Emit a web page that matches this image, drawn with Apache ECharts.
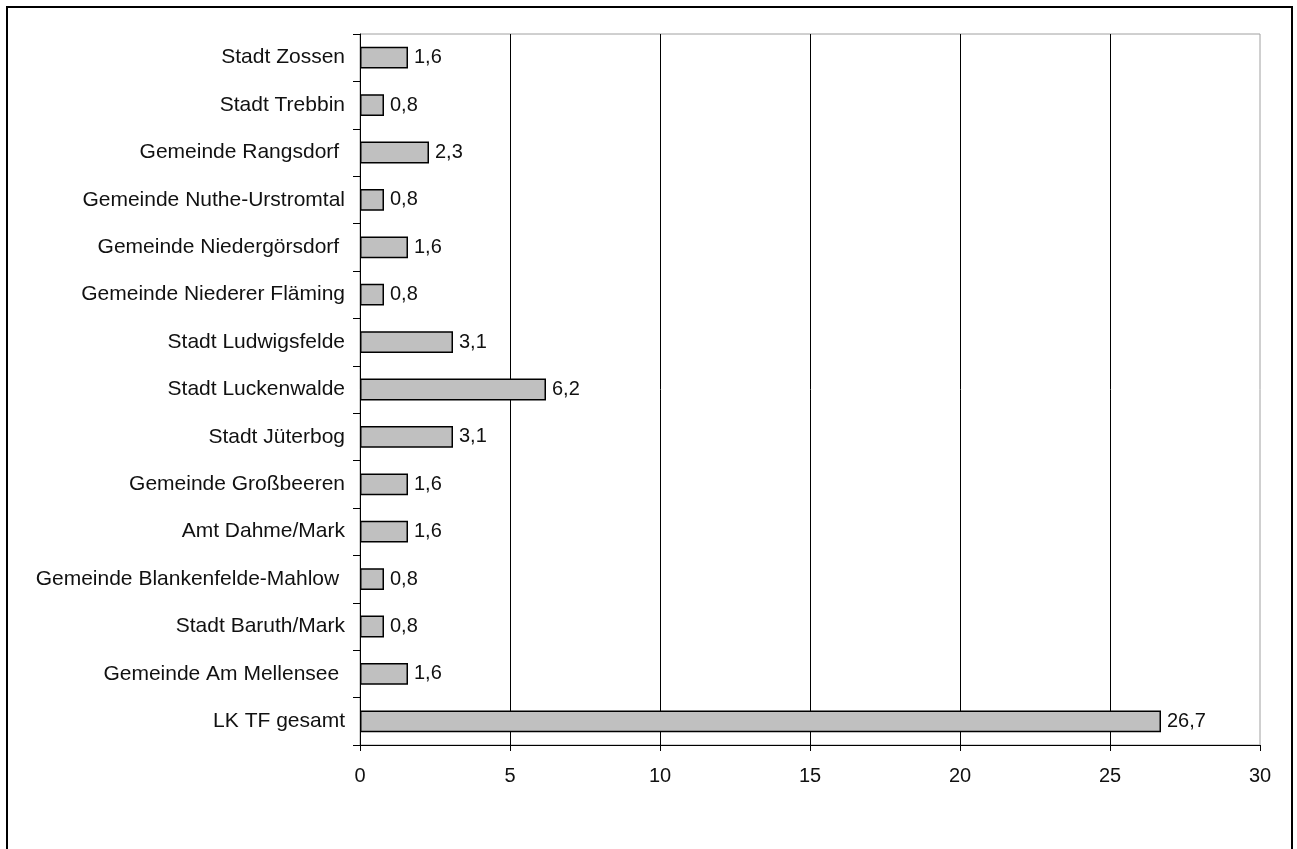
<!DOCTYPE html>
<html>
<head>
<meta charset="utf-8">
<script src="https://cdn.jsdelivr.net/npm/echarts@6/dist/echarts.min.js"></script>
<style>
  html, body { margin: 0; padding: 0; background: #fff; }
  #chart { width: 1297px; height: 849px; }
</style>
</head>
<body>
<div id="chart"></div>
<script>
// Kategorien von oben nach unten
const categories = [
  "Stadt Zossen",
  "Stadt Trebbin",
  "Gemeinde Rangsdorf ",
  "Gemeinde Nuthe-Urstromtal",
  "Gemeinde Niedergörsdorf ",
  "Gemeinde Niederer Fläming",
  "Stadt Ludwigsfelde",
  "Stadt Luckenwalde",
  "Stadt Jüterbog",
  "Gemeinde Großbeeren",
  "Amt Dahme/Mark",
  "Gemeinde Blankenfelde-Mahlow ",
  "Stadt Baruth/Mark",
  "Gemeinde Am Mellensee ",
  "LK TF gesamt"
];
const values = [1.6, 0.8, 2.3, 0.8, 1.6, 0.8, 3.1, 6.2, 3.1, 1.6, 1.6, 0.8, 0.8, 1.6, 26.7];
const xTicks = [0, 5, 10, 15, 20, 25, 30];

const font = "Arial, 'Liberation Sans', sans-serif";
const chart = echarts.init(document.getElementById("chart"));

chart.setOption({
  animation: false,
  graphic: [{
    type: "rect",
    shape: { x: 7, y: 7, width: 1285, height: 900 },
    style: { fill: "none", stroke: "#000", lineWidth: 2 },
    silent: true
  }],
  grid: {
    left: 360, top: 34, right: 37, bottom: 104,
    show: true, borderColor: "#a0a0a0", borderWidth: 1, backgroundColor: "transparent"
  },
  xAxis: {
    type: "value",
    min: xTicks[0], max: xTicks[xTicks.length - 1], interval: 5,
    axisLine: { show: true, lineStyle: { color: "#000", width: 1 } },
    axisTick: { show: true, length: 6, lineStyle: { color: "#000" } },
    axisLabel: { color: "#111", fontFamily: font, fontSize: 20, margin: 21 },
    splitLine: { show: true, showMinLine: false, showMaxLine: false, lineStyle: { color: "#000", width: 1 } }
  },
  yAxis: {
    type: "category",
    data: categories,
    inverse: true,
    axisLine: { show: true, lineStyle: { color: "#000", width: 1 } },
    axisTick: { show: true, length: 7, lineStyle: { color: "#000" } },
    axisLabel: { color: "#111", fontFamily: font, fontSize: 21, margin: 15 },
    splitLine: { show: false }
  },
  series: [{
    type: "bar",
    data: values,
    barWidth: "46%",
    itemStyle: { color: "#c0c0c0", borderColor: "#000", borderWidth: 1.5 },
    label: {
      show: true, position: "right", distance: 6,
      color: "#111", fontFamily: font, fontSize: 20,
      formatter: p => String(p.value).replace(".", ",")
    }
  }]
});
</script>
</body>
</html>
